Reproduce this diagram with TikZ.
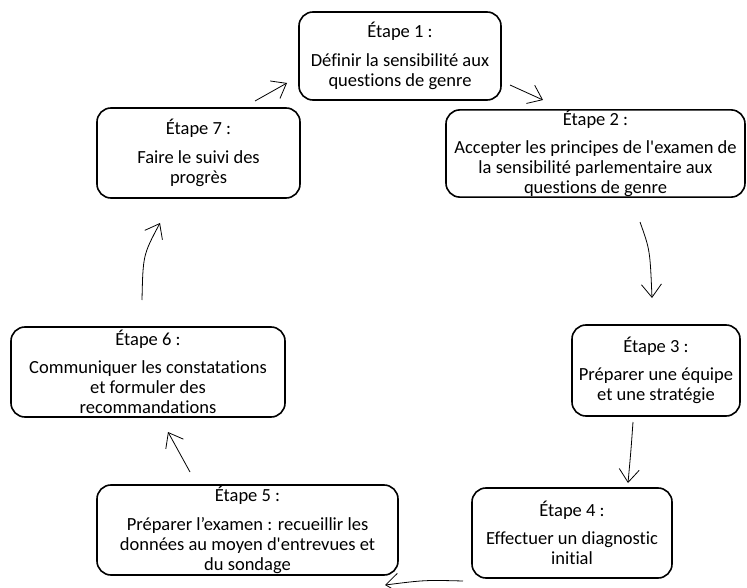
\documentclass[tikz,border=0pt]{standalone}
\usepackage{fontspec}
\newfontfamily\cf{Carlito}[Ligatures=NoCommon]
\usetikzlibrary{arrows.meta}
\begin{document}
\begin{tikzpicture}[x=1pt,y=-1pt,
  stepbox/.style={draw=black,line width=1.6pt,rounded corners=14pt,align=center,
    inner sep=0pt,font=\cf\fontsize{18.5}{20.2}\selectfont},
  flow/.style={line width=0.8pt,-{Straight Barb[length=13pt,width=20pt,line width=0.8pt]}}]
\useasboundingbox (0,0) rectangle (747,588);
\node[stepbox,minimum width=202pt,minimum height=88pt] (s1) at (400,56)
  {Étape 1~:\\[8pt]Définir la sensibilité aux\\questions de genre};
\node[stepbox,minimum width=299pt,minimum height=87pt] (s2) at (595.5,153.5)
  {Étape 2~:\\[8pt]Accepter les principes de l'examen de\\la sensibilité parlementaire aux\\questions de genre};
\node[stepbox,minimum width=168pt,minimum height=91pt] (s3) at (656,370.5)
  {Étape 3~:\\[8pt]Préparer une équipe\\et une stratégie};
\node[stepbox,minimum width=200pt,minimum height=90pt] (s4) at (572,533)
  {Étape 4~:\\[8pt]Effectuer un diagnostic\\initial};
\node[stepbox,minimum width=301pt,minimum height=90pt] (s5) at (247.5,530)
  {Étape 5~:\\[8pt]Préparer l’examen~: recueillir les\\données au moyen d'entrevues et\\du sondage};
\node[stepbox,minimum width=274pt,minimum height=90pt] (s6) at (148,372)
  {Étape 6~:\\[8pt]Communiquer les constatations\\et formuler des\\recommandations};
\node[stepbox,minimum width=203pt,minimum height=90pt] (s7) at (198.5,153)
  {Étape 7~:\\[8pt]Faire le suivi des\\progrès};
\coordinate (a1s) at (255,101); \coordinate (a1e) at (287,83);
\coordinate (a2s) at (510,85);  \coordinate (a2e) at (543,100);
\coordinate (a3s) at (640,222); \coordinate (a3e) at (652,298);
\coordinate (a4s) at (633,422); \coordinate (a4e) at (628,483);
\coordinate (a5s) at (463,581); \coordinate (a5e) at (385,585);
\coordinate (a6s) at (190,472); \coordinate (a6e) at (168,432);
\coordinate (a7s) at (142,300); \coordinate (a7e) at (160,223);
\draw[flow] (a1s) -- (a1e);
\draw[flow] (a2s) -- (a2e);
\draw[flow] (a3s) .. controls (650,250) .. (a3e);
\draw[flow] (a4s) .. controls (631,450) .. (a4e);
\draw[flow] (a5s) .. controls (425,580) .. (a5e);
\draw[flow] (a6s) -- (a6e);
\draw[flow] (a7s) .. controls (143,255) .. (a7e);
\end{tikzpicture}
\end{document}
